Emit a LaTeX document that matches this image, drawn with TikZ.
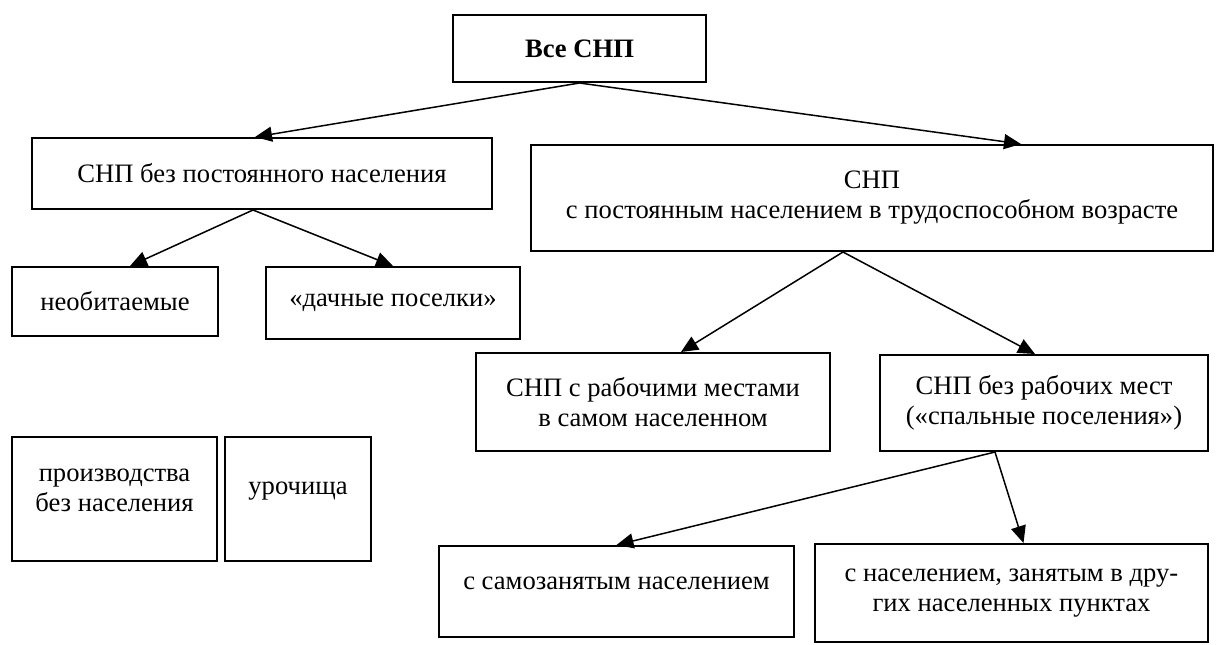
\documentclass[tikz,border=0pt]{standalone}
\usepackage{fontspec}
\setmainfont{Liberation Serif}
\usetikzlibrary{arrows.meta}

\tikzset{
  box/.style={draw, line width=1pt, align=center, inner sep=2pt,
    font=\fontsize{13.3}{15}\selectfont},
  arr/.style={-{Triangle[length=8.5pt,width=7.5pt]}, line width=0.75pt},
}

\begin{document}
\begin{tikzpicture}[x=0.5pt,y=-0.5pt]
        \useasboundingbox (0,0) rectangle (1217,644);
        % top level
        \node[box, minimum width=126.5pt, minimum height=33.5pt,
          font=\fontsize{13.3}{15}\selectfont\bfseries] (all-snp) at (579.5,48.5) {Все СНП};
        \node[box, minimum width=230pt, minimum height=35.5pt] (no-pop) at (262,173.5)
          {СНП без постоянного населения};
        \node[box, minimum width=341pt, minimum height=53pt] (with-pop) at (872,198)
          {СНП\\с постоянным населением в трудоспособном возрасте};
        % without population
        \node[box, minimum width=103pt, minimum height=34.5pt] (uninhab) at (115,301.5) {необитаемые};
        \node[box, minimum width=127pt, minimum height=36pt] (dacha) at (393,303) {«дачные поселки»};
        \node[box, minimum width=102.5pt, minimum height=62pt] (prod) at (114.5,499)
          {производства\\без населения\\[-6pt]};
        \node[box, minimum width=73pt, minimum height=62pt] (tract) at (298,499) {урочища\\[-4pt]};
        % with population
        \node[box, minimum width=177pt, minimum height=49pt] (with-work) at (653,402)
          {СНП с рабочими местами\\в самом населенном};
        \node[box, minimum width=164pt, minimum height=48pt] (no-work) at (1044,403)
          {СНП без рабочих мест\\(«спальные поселения»)};
        \node[box, minimum width=177.5pt, minimum height=45.5pt] (self-emp) at (616.5,591.5)
          {с самозанятым населением\\[-6.5pt]};
        \node[box, minimum width=196.5pt, minimum height=49pt] (commute) at (1011.5,593)
          {с населением, занятым в дру-\\гих населенных пунктах};

        \draw[arr] (all-snp.south) -- ([xshift=-3.5pt]no-pop.north);
        \draw[arr] (all-snp.south) -- ([xshift=74.5pt]with-pop.north);
        \draw[arr] ([xshift=-4.5pt]no-pop.south) -- ([xshift=7.5pt]uninhab.north);
        \draw[arr] ([xshift=-4.5pt]no-pop.south) -- (dacha.north);
        \draw[arr] ([xshift=-14.5pt]with-pop.south) -- ([xshift=14pt]with-work.north);
        \draw[arr] ([xshift=-14.5pt]with-pop.south) -- ([xshift=-4.5pt]no-work.north);
        \draw[arr] ([xshift=-24.5pt]no-work.south) -- (self-emp.north);
        \draw[arr] ([xshift=-24.5pt]no-work.south) -- ([xshift=6pt]commute.north);
\end{tikzpicture}
\end{document}
